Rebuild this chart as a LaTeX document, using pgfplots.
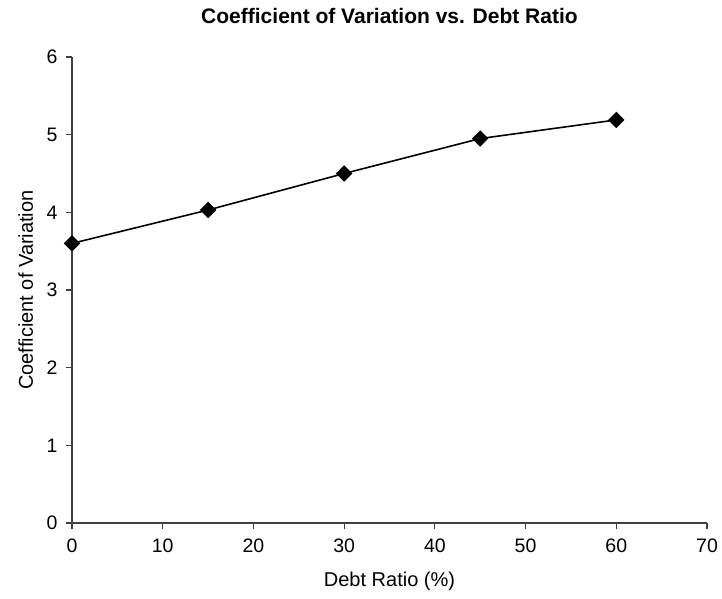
\documentclass[border=0pt]{standalone}
\usepackage{fontspec}
\setmainfont{Liberation Sans}
\usepackage{pgfplots}
\pgfplotsset{compat=1.18}
\begin{document}
\begin{tikzpicture}
\useasboundingbox (-72pt,-75pt) rectangle (650pt,523pt);
\begin{axis}[
  scale only axis,
  width=635pt, height=466pt,
  xmin=0, xmax=70, ymin=0, ymax=6,
  xtick={0,10,...,70}, ytick={0,1,...,6},
  axis x line*=bottom, axis y line*=left,
  axis line style={line width=1.1pt, black!75, -},
  tick style={line width=1.1pt, black!75},
  tick align=outside,
  major tick length=6pt,
  /pgf/number format/assume math mode=true,
  ticklabel style={font=\fontsize{19.5}{22}\selectfont},
  xticklabel style={yshift=-6pt},
  yticklabel style={xshift=-5pt},
  title={Coefficient of Variation vs. Debt Ratio},
  title style={at={(axis description cs:0.5,1.060)}, anchor=base, font=\bfseries\fontsize{21}{24}\selectfont},
  xlabel={Debt Ratio (\%)},
  xlabel style={at={(axis description cs:0.5,-0.126)}, anchor=center, font=\fontsize{20}{23}\selectfont},
  ylabel={Coefficient of Variation},
  ylabel style={at={(axis description cs:-0.073,0.5)}, anchor=center, rotate=0, font=\fontsize{20}{23}\selectfont},
  clip=false,
]
\addplot[black, line width=1.6pt, mark=square*, mark size=5pt, mark options={solid, fill=black, rotate=45}]
  coordinates {(0,3.60) (15,4.03) (30,4.50) (45,4.95) (60,5.19)};
\end{axis}
\end{tikzpicture}
\end{document}
